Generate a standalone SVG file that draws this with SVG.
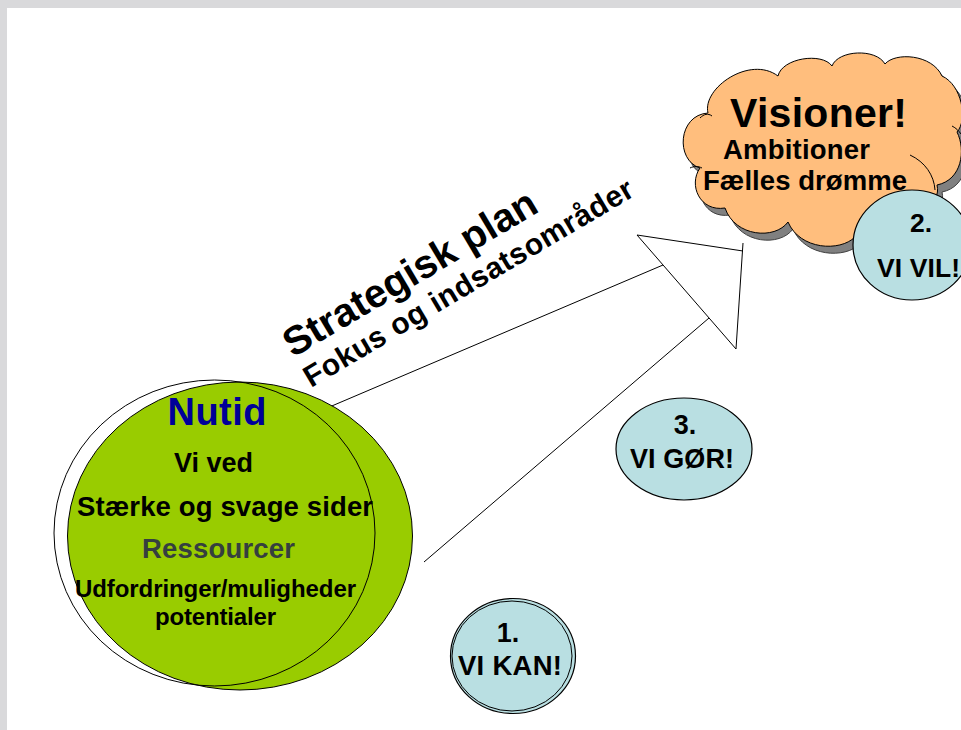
<svg xmlns="http://www.w3.org/2000/svg" width="961" height="730" viewBox="0 0 961 730">
<style>
.t{font-family:"Liberation Sans",Arial,sans-serif;font-weight:bold;text-anchor:middle;fill:#000}
.ln{stroke:#000;stroke-width:1;fill:none}
.oval{fill:#b9dfe2;stroke:#000;stroke-width:1.2}
</style>
<defs>
<path id="cloudPath" d="M708,113 C702,88 750,55 778,76 C782,58 822,52 832,66 C838,50 876,48 885,64 C895,52 932,54 942,76 C962,85 968,120 957,132 C966,150 962,180 937,185 C942,205 915,215 895,210 C895,230 870,245 855,237 C840,252 800,250 788,222 C775,240 735,237 725,208 C700,212 688,185 700,168 C675,160 678,115 708,113 Z"/>
</defs>
<rect x="0" y="0" width="961" height="730" fill="#ffffff"/>
<g id="frame">
<rect x="0" y="0" width="961" height="8" fill="#d9d9db"/>
<rect x="0" y="0" width="7" height="730" fill="#d9d9db"/>
</g>
<g id="connectors">
<line class="ln" x1="320" y1="411" x2="663" y2="265"/>
<line class="ln" x1="424" y1="562" x2="709" y2="318"/>
<path class="ln" d="M743,243 L736,349 L637,235 L743,251"/>
</g>
<g id="node-nutid">
<ellipse cx="240" cy="536" rx="172.5" ry="154" fill="#99cc00" stroke="#000" stroke-width="1"/>
<ellipse cx="214.5" cy="533" rx="160.5" ry="153" fill="none" stroke="#000" stroke-width="1"/>
<text class="t" x="217" y="425" font-size="38" style="fill:#000099" textLength="99" lengthAdjust="spacing">Nutid</text>
<text class="t" x="213.5" y="472" font-size="27" textLength="79" lengthAdjust="spacing">Vi ved</text>
<text class="t" x="225" y="516" font-size="27.5" textLength="296" lengthAdjust="spacing">Stærke og svage sider</text>
<text class="t" x="218.5" y="558" font-size="27.5" style="fill:#353f3f" textLength="153" lengthAdjust="spacing">Ressourcer</text>
<text class="t" x="215.5" y="597" font-size="24" textLength="281" lengthAdjust="spacing">Udfordringer/muligheder</text>
<text class="t" x="215.5" y="625" font-size="24" textLength="121" lengthAdjust="spacing">potentialer</text>
</g>
<g id="label-strategisk">
<text class="t" style="text-anchor:start" font-size="40" transform="translate(293,358) rotate(-30.7)" textLength="288" lengthAdjust="spacing">Strategisk plan</text>
<text class="t" style="text-anchor:start" font-size="30" transform="translate(311,388) rotate(-30.7)" textLength="378" lengthAdjust="spacing">Fokus og indsatsområder</text>
</g>
<g id="node-visioner">
<use href="#cloudPath" transform="translate(5,7)" fill="#808080" stroke="#404040" stroke-width="1"/>
<use href="#cloudPath" fill="#ffbe7d" stroke="#000" stroke-width="1"/>
<path class="ln" d="M910,155 C925,162 934,175 935,190"/>
<path class="ln" d="M952,126 C956,128 959,131 961,134"/>
<path class="ln" d="M700,118 C704,114 708,113 712,116"/>
<path class="ln" d="M690,168 C694,166 698,166 702,168"/>
<text class="t" x="818.5" y="127" font-size="41" textLength="177" lengthAdjust="spacing">Visioner!</text>
<text class="t" x="796.5" y="159" font-size="27.5" textLength="147" lengthAdjust="spacing">Ambitioner</text>
<text class="t" x="805" y="190" font-size="27.5" textLength="204" lengthAdjust="spacing">Fælles drømme</text>
</g>
<g id="node-vivil">
<ellipse class="oval" cx="912" cy="245" rx="59" ry="55"/>
<text class="t" x="921" y="232" font-size="26.5">2.</text>
<text class="t" x="918.5" y="277" font-size="26.5" textLength="83" lengthAdjust="spacing">VI VIL!</text>
</g>
<g id="node-vigor">
<ellipse class="oval" cx="684" cy="449" rx="68" ry="51"/>
<text class="t" x="685" y="434" font-size="27">3.</text>
<text class="t" x="682" y="468" font-size="27" textLength="104" lengthAdjust="spacing">VI GØR!</text>
</g>
<g id="node-vikan">
<ellipse class="oval" cx="513" cy="656" rx="62.5" ry="57.5"/>
<ellipse cx="512" cy="656" rx="60" ry="55" fill="none" stroke="#000" stroke-width="1"/>
<text class="t" x="508" y="642" font-size="27">1.</text>
<text class="t" x="510" y="675" font-size="27.5" textLength="104" lengthAdjust="spacing">VI KAN!</text>
</g>
</svg>
